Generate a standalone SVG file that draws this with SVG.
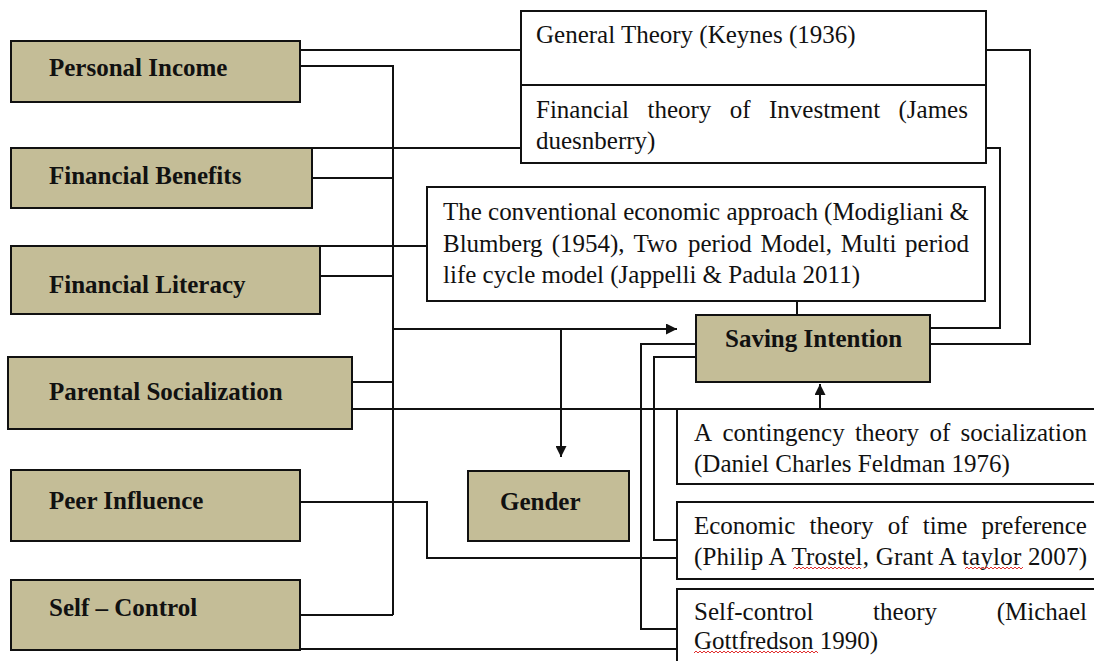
<svg xmlns="http://www.w3.org/2000/svg" width="1094" height="661" viewBox="0 0 1094 661">
<style>
.var{fill:#C4BD97;stroke:#111;stroke-width:2}
.box{fill:#fff;stroke:#111;stroke-width:2}
.lbl{font-family:"Liberation Serif","Times New Roman",serif;font-size:25px;font-weight:bold;fill:#111}
.txt{font-family:"Liberation Serif","Times New Roman",serif;font-size:25px;fill:#111}
.ln{fill:none;stroke:#111;stroke-width:2}
.sq{fill:none;stroke:#e03030;stroke-width:1}
</style>
<defs>
<marker id="ah" viewBox="0 0 10 10" refX="10" refY="5" markerWidth="11" markerHeight="11" markerUnits="userSpaceOnUse" orient="auto">
<path d="M0,0 L10,5 L0,10 Z" fill="#111"/>
</marker>
</defs>
<rect width="1094" height="661" fill="#fff"/>

<g id="connectors">
<path class="ln" d="M300,50 H521"/>
<path class="ln" d="M300,66 H393 V615"/>
<path class="ln" d="M312,148 H521"/>
<path class="ln" d="M312,178 H393"/>
<path class="ln" d="M320,246 H427"/>
<path class="ln" d="M320,276 H393"/>
<path class="ln" d="M352,382 H393"/>
<path class="ln" d="M352,409 H1094"/>
<path class="ln" d="M300,615 H393"/>
<path class="ln" d="M393,329 H677" marker-end="url(#ah)"/>
<path class="ln" d="M561,329 V457" marker-end="url(#ah)"/>
<path class="ln" d="M300,502 H427 V558 H677"/>
<path class="ln" d="M300,649 H677"/>
<path class="ln" d="M696,344 H641 V629 H677"/>
<path class="ln" d="M696,357 H654 V540 H677"/>
<path class="ln" d="M986,50 H1030 V344 H930"/>
<path class="ln" d="M986,148 H1000 V328 H930"/>
<path class="ln" d="M797,301 V315"/>
<path class="ln" d="M820,409 V384" marker-end="url(#ah)"/>
</g>

<g id="personal-income"><rect class="var" x="11" y="41" width="289" height="61"/><text class="lbl" x="49" y="76">Personal Income</text></g>
<g id="financial-benefits"><rect class="var" x="11" y="148" width="301" height="60"/><text class="lbl" x="49" y="184">Financial Benefits</text></g>
<g id="financial-literacy"><rect class="var" x="11" y="246" width="309" height="68"/><text class="lbl" x="49" y="293">Financial Literacy</text></g>
<g id="parental-socialization"><rect class="var" x="8" y="357" width="344" height="72"/><text class="lbl" x="49" y="400">Parental Socialization</text></g>
<g id="peer-influence"><rect class="var" x="11" y="470" width="289" height="71"/><text class="lbl" x="49" y="509">Peer Influence</text></g>
<g id="self-control"><rect class="var" x="11" y="580" width="289" height="70"/><text class="lbl" x="49" y="616">Self – Control</text></g>
<g id="gender"><rect class="var" x="468" y="471" width="161" height="70"/><text class="lbl" x="500" y="510">Gender</text></g>
<g id="saving-intention"><rect class="var" x="696" y="315" width="234" height="67"/><text class="lbl" x="725" y="347">Saving Intention</text></g>

<g id="general-theory"><rect class="box" x="521" y="11" width="465" height="74"/><text class="txt" x="536" y="43">General Theory (Keynes (1936)</text></g>
<g id="financial-theory"><rect class="box" x="521" y="85" width="465" height="78"/>
<text class="txt" y="118"><tspan x="536">Financial</tspan><tspan x="647.5">theory</tspan><tspan x="729.8">of</tspan><tspan x="769">Investment</tspan><tspan x="898.5">(James</tspan></text>
<text class="txt" x="536" y="149">duesnberry)</text></g>
<g id="conventional"><rect class="box" x="427" y="187" width="558" height="114"/>
<text class="txt" x="443" y="220" textLength="526" lengthAdjust="spacing">The conventional economic approach (Modigliani &amp;</text>
<text class="txt" y="251.5"><tspan x="443">Blumberg</tspan><tspan x="551.7">(1954),</tspan><tspan x="633.4">Two</tspan><tspan x="687.9">period</tspan><tspan x="760.5">Model,</tspan><tspan x="840.8">Multi</tspan><tspan x="905.1">period</tspan></text>
<text class="txt" x="443" y="283">life cycle model (Jappelli &amp; Padula 2011)</text></g>
<g id="contingency"><rect class="box" x="677" y="409" width="500" height="75"/>
<text class="txt" y="441"><tspan x="694">A</tspan><tspan x="722.5">contingency</tspan><tspan x="855.1">theory</tspan><tspan x="929.4">of</tspan><tspan x="960.6">socialization</tspan></text>
<text class="txt" x="694" y="472">(Daniel Charles Feldman 1976)</text></g>
<g id="economic-theory"><rect class="box" x="677" y="502" width="500" height="77"/>
<text class="txt" y="534"><tspan x="694">Economic</tspan><tspan x="809.6">theory</tspan><tspan x="887.8">of</tspan><tspan x="922.8">time</tspan><tspan x="981.5">preference</tspan></text>
<text class="txt" x="694" y="565" textLength="393" lengthAdjust="spacing">(Philip A Trostel, Grant A taylor 2007)</text>
<path class="sq" d="M793,569 l2,-2 l2,2 l2,-2 l2,2 l2,-2 l2,2 l2,-2 l2,2 l2,-2 l2,2 l2,-2 l2,2 l2,-2 l2,2 l2,-2 l2,2 l2,-2 l2,2 l2,-2 l2,2 l2,-2 l2,2 l2,-2 l2,2 l2,-2 l2,2 l2,-2 l2,2 l2,-2 l2,2 l2,-2 l2,2 l2,-2 l2,2"/>
<path class="sq" d="M965,569 l2,-2 l2,2 l2,-2 l2,2 l2,-2 l2,2 l2,-2 l2,2 l2,-2 l2,2 l2,-2 l2,2 l2,-2 l2,2 l2,-2 l2,2 l2,-2 l2,2 l2,-2 l2,2 l2,-2 l2,2 l2,-2 l2,2 l2,-2 l2,2 l2,-2 l2,2 l2,-2"/>
</g>
<g id="self-control-theory"><rect class="box" x="677" y="589" width="500" height="120"/>
<text class="txt" y="620"><tspan x="694">Self-control</tspan><tspan x="873.1">theory</tspan><tspan x="996.7">(Michael</tspan></text>
<text class="txt" x="694" y="649">Gottfredson 1990)</text>
<path class="sq" d="M694,653 l2,-2 l2,2 l2,-2 l2,2 l2,-2 l2,2 l2,-2 l2,2 l2,-2 l2,2 l2,-2 l2,2 l2,-2 l2,2 l2,-2 l2,2 l2,-2 l2,2 l2,-2 l2,2 l2,-2 l2,2 l2,-2 l2,2 l2,-2 l2,2 l2,-2 l2,2 l2,-2 l2,2 l2,-2 l2,2 l2,-2 l2,2 l2,-2 l2,2 l2,-2 l2,2 l2,-2 l2,2 l2,-2 l2,2 l2,-2 l2,2 l2,-2 l2,2 l2,-2 l2,2 l2,-2 l2,2 l2,-2 l2,2 l2,-2 l2,2 l2,-2 l2,2 l2,-2 l2,2 l2,-2 l2,2 l2,-2 l2,2"/>
</g>
</svg>
